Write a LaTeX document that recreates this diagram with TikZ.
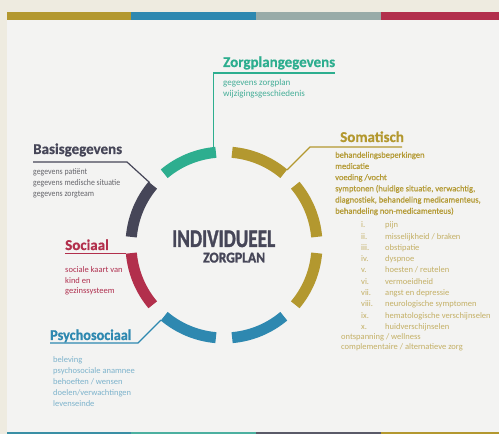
\documentclass[tikz,border=0pt]{standalone}
\usepackage{fontspec}
\setmainfont{Carlito}
\newfontfamily\heavyfont[BoldFeatures={FakeBold=1.5}]{Carlito}
\newfontfamily\headfont[BoldFeatures={FakeBold=0.5}]{Carlito}
\newfontfamily\semifont[FakeBold=0.6]{Carlito}
\newfontfamily\condfont[FakeStretch=0.9]{Carlito}
\usepackage{graphicx}
\definecolor{bgbeige}{HTML}{EEEBE0}
\definecolor{panel}{HTML}{F3F3F2}
\definecolor{cteal}{HTML}{2DAE8F}
\definecolor{cgold}{HTML}{B3982F}
\definecolor{cdark}{HTML}{464658}
\definecolor{cred}{HTML}{B22F4C}
\definecolor{cblue}{HTML}{2E88B0}
\definecolor{cgray}{HTML}{98ABA8}
\definecolor{tealtext}{HTML}{45AE98}
\definecolor{graytext}{HTML}{66666C}
\definecolor{redtext}{HTML}{B03050}
\definecolor{bluetext}{HTML}{7DB3CC}
\definecolor{goldtext}{HTML}{B49A35}
\definecolor{goldlight}{HTML}{C4B066}
\definecolor{bteal1}{HTML}{3A8FA5}
\definecolor{bteal2}{HTML}{4CB0A0}
\definecolor{bdark}{HTML}{5A5A68}
\tikzset{
  seg/.style={line width=11pt},
  conn/.style={line width=1.2pt},
  head/.style={anchor=base west, inner sep=0pt, font=\headfont\fontsize{15}{18}\selectfont\bfseries},
  body/.style={anchor=north west, inner sep=0pt, align=left},
}
\begin{document}
\begin{tikzpicture}[x=1pt,y=1pt]
\useasboundingbox (0,0) rectangle (499,434);
\fill[bgbeige] (0,0) rectangle (499,434);
\fill[panel] (7,0) rectangle (499,413.5);
% top bar
\fill[cgold] (7,413.5) rectangle (131,421.7);
\fill[cblue] (131,413.5) rectangle (256,421.7);
\fill[cgray] (256,413.5) rectangle (381,421.7);
\fill[cred] (381,413.5) rectangle (499,421.7);
% bottom bar
\fill[bteal1] (7,0) rectangle (131,1.5);
\fill[bteal2] (131,0) rectangle (256,1.5);
\fill[bdark] (256,0) rectangle (381,1.5);
\fill[cgold] (381,0) rectangle (499,1.5);

% ring
\coordinate (C) at (224,189);
\draw[seg,cgold] ([shift={(5:93)}]C) arc[start angle=5,end angle=40,radius=93];
\draw[seg,cgold] ([shift={(50:93)}]C) arc[start angle=50,end angle=85,radius=93];
\draw[seg,cteal] ([shift={(95:93)}]C) arc[start angle=95,end angle=130,radius=93];
\draw[seg,cdark] ([shift={(140:93)}]C) arc[start angle=140,end angle=175,radius=93];
\draw[seg,cred] ([shift={(185:93)}]C) arc[start angle=185,end angle=220,radius=93];
\draw[seg,cblue] ([shift={(230:93)}]C) arc[start angle=230,end angle=265,radius=93];
\draw[seg,cblue] ([shift={(275:93)}]C) arc[start angle=275,end angle=310,radius=93];
\draw[seg,cgold] ([shift={(320:93)}]C) arc[start angle=320,end angle=355,radius=93];

\coordinate (tealEnd) at ([shift={(96:98)}]C);
\coordinate (basisEnd) at ([shift={(140:97)}]C);
\coordinate (socEnd) at ([shift={(185:98)}]C);
\coordinate (psyEnd) at ([shift={(230:98)}]C);
\coordinate (somEnd) at ([shift={(50:98)}]C);

% centre title
\node[anchor=base west, inner sep=0pt, text=cdark] (ind) at (172,187)
  {\resizebox{103pt}{16.5pt}{\heavyfont\bfseries INDIVIDUEEL}};
\node[anchor=base west, inner sep=0pt, text=cdark] (zp) at (203,171.5)
  {\resizebox{62pt}{9.8pt}{\heavyfont\bfseries ZORGPLAN}};

% Zorgplangegevens
\node[head, text=cteal] (zh) at (223,367) {Zorgplangegevens};
\coordinate (zR) at (335,361);
\draw[conn,cteal] (tealEnd) |- (zR);
\node[body, text=tealtext, font=\fontsize{9}{10.5}\selectfont] (zb) at (223,355.9)
  {\strut gegevens zorgplan\\ wijzigingsgeschiedenis};

% Basisgegevens
\node[head, text=cdark] (bh) at (33,280) {Basisgegevens};
\coordinate (bL) at (33,272);
\coordinate (bK) at (127,272);
\draw[conn,cdark] (bL) -- (bK) -- (basisEnd);
\node[body, text=graytext, font=\condfont\fontsize{8.7}{11}\selectfont] (bb) at (33,267.2)
  {\strut gegevens patiënt\\ gegevens medische situatie\\ gegevens zorgteam};

% Sociaal
\node[head, text=cred] (sh) at (65,184) {Sociaal};
\coordinate (sL) at (65,180.5);
\draw[conn,cred] (sL) -- (sL -| socEnd);
\node[body, text=redtext, font=\fontsize{8.5}{10.5}\selectfont] (sb) at (65,168.9)
  {\strut sociale kaart van\\ kind en\\ gezinssysteem};

% Psychosociaal
\node[head, text=cblue] (ph) at (50,94) {\addfontfeature{FakeStretch=0.95}Psychosociaal};
\coordinate (pL) at (50,91);
\coordinate (pK) at (138,91);
\draw[conn,cblue] (pL) -- (pK) -- (psyEnd);
\node[body, text=bluetext, font=\fontsize{8.5}{11}\selectfont] (pb) at (53,79.2)
  {\strut beleving\\ psychosociale anamnee\\ behoeften / wensen\\ doelen/verwachtingen\\ levenseinde};

% Somatisch
\node[head, text=cgold] (soh) at (340,292) {Somatisch};
\coordinate (soR) at (402,287);
\coordinate (soK) at (310,287);
\draw[conn,cgold] (soR) -- (soK) -- (somEnd);
\node[body, text=goldtext, font=\semifont\fontsize{8.5}{11.2}\selectfont] (sob) at (335,284.3)
  {\strut behandelingsbeperkingen\\ medicatie\\ voeding /vocht\\
   symptonen (huidige situatie, verwachtig,\\
   diagnostiek, behandeling medicamenteus,\\
   behandeling non-medicamenteus)};
\node[body, text=goldlight, font=\fontsize{8.5}{11.3}\selectfont] (sol) at (361,214.4)
  {\begin{tabular}{@{}p{24pt}@{}l@{}}
   i. & pijn\\ ii. & misselijkheid / braken\\ iii. & obstipatie\\
   iv. & dyspnoe\\ v. & hoesten / reutelen\\ vi. & vermoeidheid\\
   vii. & angst en depressie\\ viii. & neurologische symptomen\\
   ix. & hematologische verschijnselen\\ x. & huidverschijnselen
   \end{tabular}};
\node[body, text=goldlight, font=\fontsize{8.5}{10}\selectfont] (soe) at (341,101.5)
  {\strut ontspanning / wellness\\ complementaire / alternatieve zorg};
\end{tikzpicture}
\end{document}
